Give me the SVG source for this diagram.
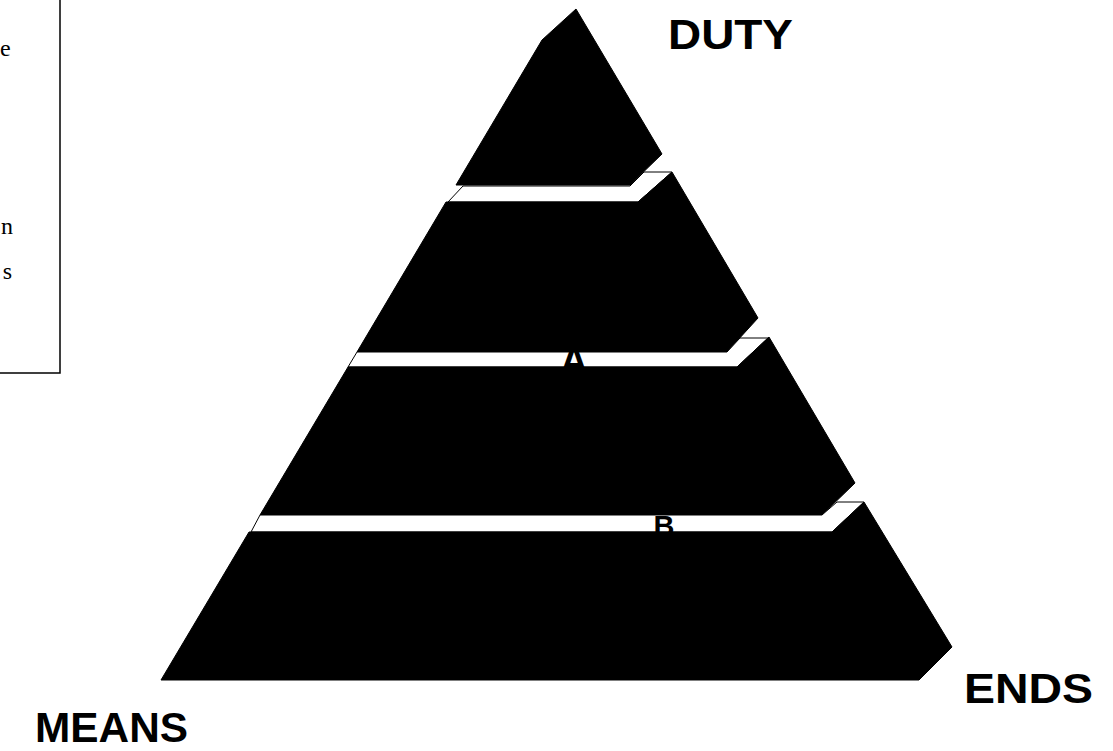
<svg xmlns="http://www.w3.org/2000/svg" width="1113" height="751" viewBox="0 0 1113 751">
<style>
.tier{fill:#000;stroke:#000;stroke-width:1;stroke-linejoin:miter}
.face{fill:#fff;stroke:#000;stroke-width:1}
.lbl{font-family:"Liberation Sans",Arial,sans-serif;font-weight:bold;font-size:43px;fill:#000}
.frag{font-family:"Liberation Sans",Arial,sans-serif;font-weight:bold;fill:#000}
.side{font-family:"Liberation Serif","Times New Roman",serif;font-size:24px;fill:#000}
</style>
<rect x="0" y="0" width="1113" height="751" fill="#fff"/>
<g id="side-box">
<path d="M60,0 V373 H0" fill="none" stroke="#000" stroke-width="1.5"/>
<text class="side" x="0" y="56">e</text>
<text class="side" x="13" y="234" text-anchor="end">n</text>
<text class="side" x="12" y="279" text-anchor="end">s</text>
</g>
<g id="tier-1">
<polygon class="tier" points="576,9 662,154 630,185 456,185 542,40"/>
</g>
<g id="tier-2">
<polygon class="face" points="463,186 630,186 644,172 672,172 638,202 448,202"/>
<polygon class="tier" points="446,202 638,202 672,172 758,318 727,352 357,352"/>
</g>
<g id="tier-3">
<polygon class="face" points="357,352 727,352 740,338 768,338 737,367 348,367"/>
<text class="frag" x="574" y="374" font-size="38" text-anchor="middle">A</text>
<polygon class="tier" points="348,367 737,367 769,337 855,483 822,515 260,515"/>
</g>
<g id="tier-4">
<polygon class="face" points="260,515 822,515 837,502 864,502 832,532 251,532"/>
<text class="frag" x="664" y="536" font-size="29" text-anchor="middle">B</text>
<polygon class="tier" points="249,532 832,532 864,502 952,647 919,680 161,680"/>
</g>
<g id="label-duty"><text class="lbl" x="668" y="49" textLength="125" lengthAdjust="spacingAndGlyphs">DUTY</text></g>
<g id="label-ends"><text class="lbl" x="964" y="703" textLength="129" lengthAdjust="spacingAndGlyphs">ENDS</text></g>
<g id="label-means"><text class="lbl" x="35" y="742" textLength="153" lengthAdjust="spacingAndGlyphs">MEANS</text></g>
<g id="connectors"/>
</svg>
